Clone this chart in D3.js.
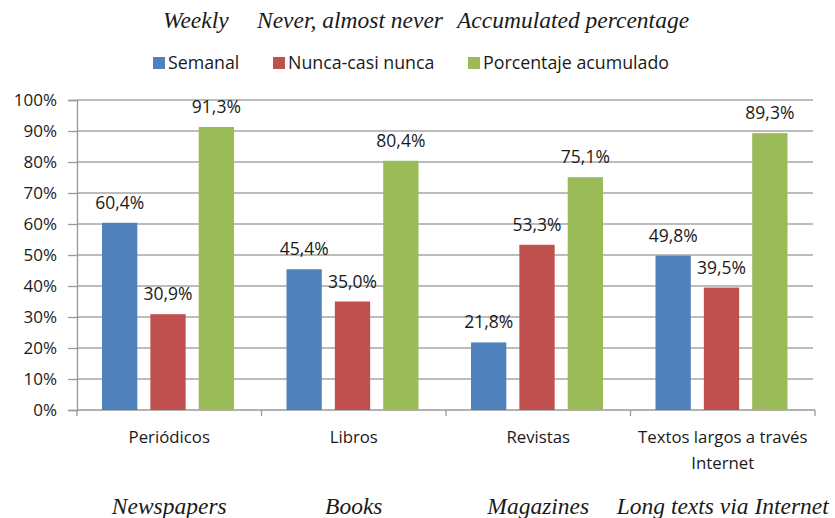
<!DOCTYPE html>
<html lang="en">
<head>
<meta charset="UTF-8">
<title>Lectura</title>
<style>
	body{margin:0;background:#fff;}
	svg text{fill:#1a1a1a;}
</style>
</head>
<body>
<script src="https://cdn.jsdelivr.net/npm/d3@7"></script>
<script>
	var categories=['Periódicos','Libros','Revistas','Textos largos a través|Internet'];
	var englishCats=['Newspapers','Books','Magazines','Long texts via Internet'];
	var series=['Semanal','Nunca-casi nunca','Porcentaje acumulado'];
	var englishSeries=['Weekly','Never, almost never','Accumulated percentage'];
	var semanal=[60.4,45.4,21.8,49.8];
	var nunca=[30.9,35.0,53.3,39.5];
	var acumulado=[91.3,80.4,75.1,89.3];
	var yTicks=[0,10,20,30,40,50,60,70,80,90,100];
	var colors=['#4f81bd','#c0504d','#9bbb59'];

	var values=[semanal,nunca,acumulado];
	var width=835,height=518;
	var plot={left:77,right:815,top:100,bottom:410};

	var svg=d3.select('body').append('svg')
		.attr('width',width)
		.attr('height',height);

	var x0=d3.scaleBand()
		.domain(categories)
		.range([plot.left,plot.right]);
	var x1=d3.scaleBand()
		.domain(series)
		.range([25,157])
		.paddingInner(0.27);
	var y=d3.scaleLinear()
		.domain([0,100])
		.range([plot.bottom,plot.top]);

	// gridlines
	svg.append('g')
		.selectAll('line')
		.data(yTicks.slice(1))
		.enter()
		.append('line')
		.attr('x1',plot.left)
		.attr('x2',plot.right-2)
		.attr('y1',function(d){return y(d);})
		.attr('y2',function(d){return y(d);})
		.attr('stroke','#a6a6a6')
		.attr('stroke-width',1.5);

	var yAxis=d3.axisLeft(y)
		.tickValues(yTicks)
		.tickSize(9)
		.tickPadding(11)
		.tickFormat(function(d){return d+'%';});
	var gy=svg.append('g')
		.attr('transform','translate('+plot.left+',0)')
		.call(yAxis);
	gy.selectAll('text')
		.attr('font-family','Open Sans')
		.attr('font-size',17)
		.attr('fill','#1a1a1a');
	gy.selectAll('line,path').attr('stroke','#999').attr('stroke-width',1.3);

	// bottom axis line and boundary ticks
	var gx=svg.append('g');
	gx.append('line')
		.attr('x1',plot.left).attr('x2',plot.right)
		.attr('y1',plot.bottom).attr('y2',plot.bottom)
		.attr('stroke','#999').attr('stroke-width',1.3);
	var bounds=categories.map(function(c){return x0(c);}).concat([plot.right]);
	gx.selectAll('.tk')
		.data(bounds)
		.enter()
		.append('line')
		.attr('class','tk')
		.attr('x1',function(d){return d;})
		.attr('x2',function(d){return d;})
		.attr('y1',plot.bottom)
		.attr('y2',plot.bottom+6)
		.attr('stroke','#999').attr('stroke-width',1.3);

	var groups=svg.selectAll('.grp')
		.data(categories)
		.enter()
		.append('g')
		.attr('class','grp')
		.attr('transform',function(d){return 'translate('+x0(d)+',0)';});

	groups.each(function(cat,ci){
		var g=d3.select(this);
		series.forEach(function(s,si){
			var v=values[si][ci];
			g.append('rect')
				.attr('x',x1(s))
				.attr('width',x1.bandwidth())
				.attr('y',y(v))
				.attr('height',y(0)-y(v))
				.attr('fill',colors[si]);
			g.append('text')
				.attr('x',x1(s)+x1.bandwidth()/2)
				.attr('y',y(v)-14)
				.attr('text-anchor','middle')
				.attr('font-family','Open Sans')
				.attr('font-size',17.5)
				.text(d3.format('.1f')(v).replace('.',',')+'%');
		});
	});

	// category labels
	groups.each(function(cat){
		var lines=cat.split('|');
		var t=d3.select(this).append('text')
			.attr('text-anchor','middle')
			.attr('font-family','Open Sans')
			.attr('font-size',16.8);
		lines.forEach(function(l,i){
			t.append('tspan')
				.attr('x',x0.bandwidth()/2)
				.attr('y',plot.bottom+33+i*26)
				.text(l);
		});
	});

	// english category labels
	svg.selectAll('.eng')
		.data(englishCats)
		.enter()
		.append('text')
		.attr('class','eng')
		.attr('x',function(d,i){return x0(categories[i])+x0.bandwidth()/2;})
		.attr('y',514)
		.attr('text-anchor','middle')
		.attr('font-family','Liberation Serif')
		.attr('font-style','italic')
		.attr('font-size',23.5)
		.attr('fill','#111')
		.text(function(d){return d;});

	// english series titles
	var titleX=[163,257,457];
	svg.selectAll('.ttl')
		.data(englishSeries)
		.enter()
		.append('text')
		.attr('class','ttl')
		.attr('x',function(d,i){return titleX[i];})
		.attr('y',28)
		.attr('font-family','Liberation Serif')
		.attr('font-style','italic')
		.attr('font-size',23.5)
		.attr('fill','#111')
		.text(function(d){return d;});

	// legend
	var legendX=[153,273,468];
	var leg=svg.selectAll('.leg')
		.data(series)
		.enter()
		.append('g')
		.attr('class','leg')
		.attr('transform',function(d,i){return 'translate('+legendX[i]+',63)';});
	leg.append('rect')
		.attr('x',0).attr('y',-6)
		.attr('width',12).attr('height',12)
		.attr('fill',function(d,i){return colors[i];});
	leg.append('text')
		.attr('x',15)
		.attr('y',6)
		.attr('font-family','Open Sans')
		.attr('font-size',17.8)
		.text(function(d){return d;});
</script>
</body>
</html>
